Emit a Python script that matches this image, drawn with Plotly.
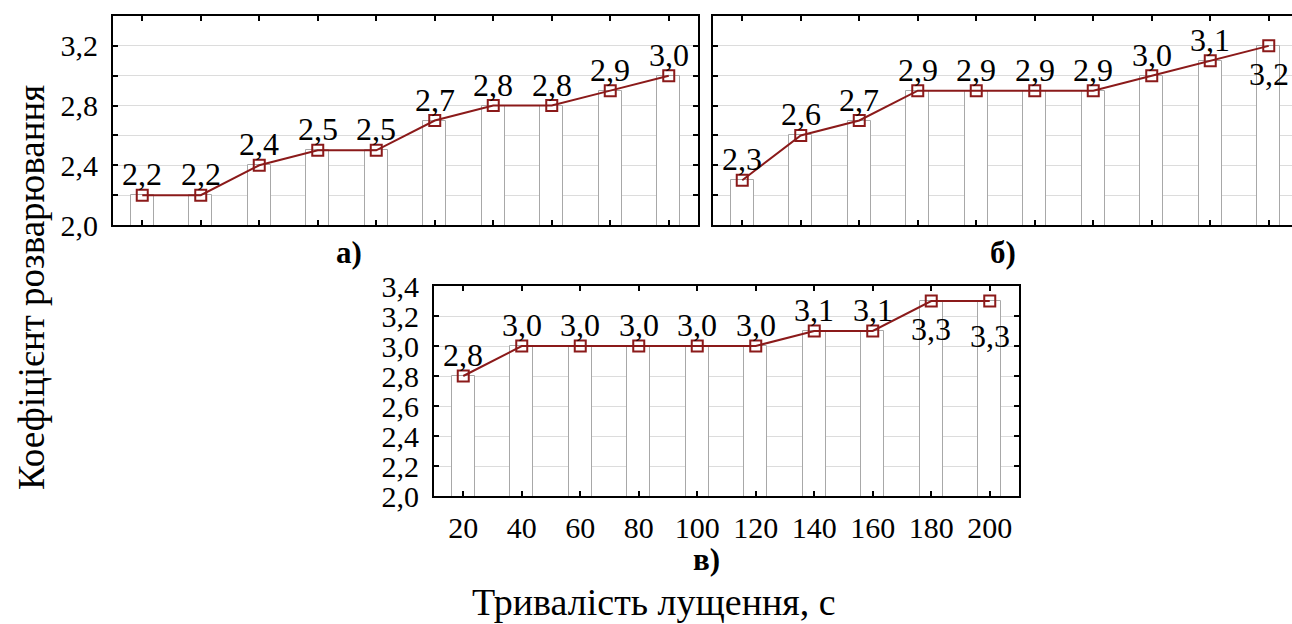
import plotly.graph_objects as go

# ---- data ----
durations = [20, 40, 60, 80, 100, 120, 140, 160, 180, 200]
values_a = [2.2, 2.2, 2.4, 2.5, 2.5, 2.7, 2.8, 2.8, 2.9, 3.0]
values_b = [2.3, 2.6, 2.7, 2.9, 2.9, 2.9, 2.9, 3.0, 3.1, 3.2]
values_c = [2.8, 3.0, 3.0, 3.0, 3.0, 3.0, 3.1, 3.1, 3.3, 3.3]
labels_a = ["2,2", "2,2", "2,4", "2,5", "2,5", "2,7", "2,8", "2,8", "2,9", "3,0"]
labels_b = ["2,3", "2,6", "2,7", "2,9", "2,9", "2,9", "2,9", "3,0", "3,1", "3,2"]
labels_c = ["2,8", "3,0", "3,0", "3,0", "3,0", "3,0", "3,1", "3,1", "3,3", "3,3"]
y_ticks = [2.0, 2.2, 2.4, 2.6, 2.8, 3.0, 3.2, 3.4]
y_text_sparse = ["2,0", "", "2,4", "", "2,8", "", "3,2", ""]
y_text_full = ["2,0", "2,2", "2,4", "2,6", "2,8", "3,0", "3,2", "3,4"]
x_text = [str(d) for d in durations]
y_title = "Коефіцієнт розварювання"
x_title = "Тривалість лущення, с"
panel_names = ["а)", "б)", "в)"]

# label placement (style): "a" = above point, "b" = below point
place_a = ["a"] * 10
place_b = ["a"] * 9 + ["b"]
place_c = ["a"] * 8 + ["b", "b2"]

FONT = "Liberation Serif"
LINE_COLOR = "#8b1a1a"
W, H = 1292, 624

fig = go.Figure()

panels = [
    ("x", "y", values_a, labels_a, place_a),
    ("x2", "y2", values_b, labels_b, place_b),
    ("x3", "y3", values_c, labels_c, place_c),
]
for xa, ya, vals, labs, place in panels:
    fig.add_trace(go.Bar(
        x=durations, y=vals, xaxis=xa, yaxis=ya, width=8,
        marker=dict(color="white", line=dict(color="#a8a8a8", width=1)),
        showlegend=False, hoverinfo="skip",
    ))
    fig.add_trace(go.Scatter(
        x=durations, y=vals, xaxis=xa, yaxis=ya, mode="lines+markers",
        line=dict(color=LINE_COLOR, width=2),
        marker=dict(symbol="square-open", size=11, color=LINE_COLOR,
                    line=dict(color=LINE_COLOR, width=2)),
        cliponaxis=False, showlegend=False,
    ))
    for xv, yv, t, p in zip(durations, vals, labs, place):
        if p == "a":
            anchor, shift = "bottom", 2
        elif p == "b":
            anchor, shift = "top", -9
        else:
            anchor, shift = "top", -16
        fig.add_annotation(
            x=xv, y=yv, xref=xa, yref=ya, text=t, showarrow=False,
            xanchor="center", yanchor=anchor, yshift=shift, borderpad=0,
            font=dict(family=FONT, size=32, color="black"),
        )


def px_x(a, b):
    return [a / W, b / W]


def px_y(top, bottom):
    return [1 - bottom / H, 1 - top / H]


common_x = dict(
    tickvals=durations, ticks="inside", ticklen=5, tickwidth=1.5,
    tickcolor="black", showline=True, linecolor="black", linewidth=2,
    showgrid=False, zeroline=False, automargin=False,
    tickfont=dict(family=FONT, size=30, color="black"),
)
common_y = dict(
    range=[2.0, 3.4], tickvals=y_ticks, ticks="inside", ticklen=5,
    tickwidth=1.5, tickcolor="black", showline=True, linecolor="black",
    linewidth=2, showgrid=True, gridcolor="#dcdcdc", gridwidth=1,
    zeroline=False, automargin=False,
    tickfont=dict(family=FONT, size=30, color="black"),
)

fig.update_layout(
    width=W, height=H, margin=dict(l=0, r=0, t=0, b=0),
    paper_bgcolor="white", plot_bgcolor="white", bargap=0,
    font=dict(family=FONT, color="black"),
    xaxis=dict(common_x, domain=px_x(113, 698), range=[10, 210],
               anchor="y", mirror="ticks", showticklabels=False),
    yaxis=dict(common_y, domain=px_y(16, 225), anchor="x", mirror="ticks",
               ticktext=y_text_sparse, ticklabelstandoff=7),
    xaxis2=dict(common_x, domain=px_x(713, 1292), range=[10, 207.95],
                anchor="y2", mirror="ticks", showticklabels=False),
    yaxis2=dict(common_y, domain=px_y(16, 225), anchor="x2", mirror=False,
                showticklabels=False),
    xaxis3=dict(common_x, domain=px_x(434, 1019), range=[10, 210],
                anchor="y3", mirror="ticks", ticktext=x_text,
                ticklabelstandoff=4),
    yaxis3=dict(common_y, domain=px_y(286, 496), anchor="x3", mirror="ticks",
                ticktext=y_text_full, ticklabelstandoff=7),
)

annotations = [
    dict(text=panel_names[0], x=349 / W, y=1 - 252 / H),
    dict(text=panel_names[1], x=1003 / W, y=1 - 252 / H),
    dict(text=panel_names[2], x=706 / W, y=1 - 559 / H),
]
for a in annotations:
    fig.add_annotation(xref="paper", yref="paper", showarrow=False,
                       xanchor="center", yanchor="middle",
                       font=dict(family=FONT, size=31, color="black"),
                       text="<b>" + a["text"] + "</b>", x=a["x"], y=a["y"])

fig.add_annotation(xref="paper", yref="paper", showarrow=False,
                   text=y_title, textangle=-90, x=31 / W, y=1 - 288 / H,
                   xanchor="center", yanchor="middle",
                   font=dict(family=FONT, size=37, color="black"))
fig.add_annotation(xref="paper", yref="paper", showarrow=False,
                   text=x_title, x=654 / W, y=1 - 602 / H,
                   xanchor="center", yanchor="middle",
                   font=dict(family=FONT, size=38, color="black"))

fig.write_html("out.html", post_script="document.body.style.margin='0px';",
               config={"displayModeBar": False})
